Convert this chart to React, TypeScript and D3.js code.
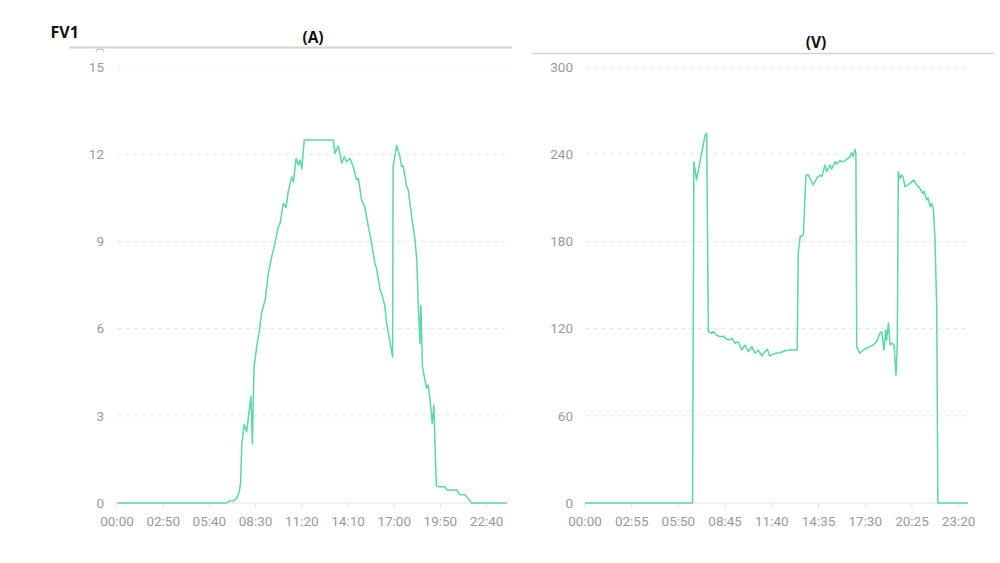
import React from "react";
import * as d3 from "d3";

// ---- Data: current (A), time as minutes of day ----
const timesA = [0, 404, 416, 430, 440, 450, 455, 459, 468, 477, 493, 498, 504, 514, 524, 532, 538, 545, 557, 569, 581, 593, 600, 612, 622, 630, 643, 649, 659, 667, 673, 680, 689, 796, 802, 814, 827, 836, 845, 857, 869, 882, 888, 900, 912, 925, 937, 949, 955, 968, 974, 986, 992, 1014, 1016, 1029, 1041, 1047, 1053, 1066, 1072, 1084, 1096, 1103, 1108, 1115, 1118, 1124, 1133, 1139, 1145, 1152, 1160, 1166, 1170, 1175, 1182, 1207, 1213, 1250, 1262, 1280, 1292, 1305, 1435];
const valuesA = [0, 0, 0.08, 0.08, 0.16, 0.39, 0.7, 2.0, 2.7, 2.45, 3.66, 2.03, 4.64, 5.38, 5.95, 6.53, 6.75, 6.98, 7.9, 8.47, 8.93, 9.5, 9.62, 10.31, 10.17, 10.71, 11.22, 11.05, 11.86, 11.63, 11.8, 11.5, 12.49, 12.49, 12.03, 12.28, 11.69, 11.91, 11.74, 11.86, 11.57, 11.11, 11.17, 10.42, 10.19, 9.5, 8.93, 8.24, 8.07, 7.33, 7.21, 6.75, 6.18, 5.03, 11.57, 12.31, 11.91, 11.57, 11.6, 10.88, 10.77, 9.85, 9.1, 8.36, 6.98, 5.49, 6.8, 4.69, 4.23, 3.95, 4.06, 3.54, 2.74, 3.37, 2.05, 0.6, 0.56, 0.56, 0.45, 0.45, 0.28, 0.28, 0.16, 0, 0];

// ---- Data: voltage (V) ----
const timesV = [0, 403, 408, 418, 450, 456, 462, 475, 481, 493, 506, 518, 531, 543, 550, 562, 574, 587, 600, 612, 625, 637, 649, 662, 674, 683, 693, 712, 731, 749, 768, 795, 799, 806, 818, 828, 837, 855, 868, 881, 887, 899, 905, 918, 924, 937, 943, 955, 968, 980, 993, 999, 1005, 1012, 1015, 1018, 1030, 1043, 1055, 1068, 1080, 1093, 1105, 1112, 1120, 1127, 1130, 1137, 1143, 1149, 1158, 1165, 1170, 1174, 1180, 1187, 1193, 1199, 1218, 1231, 1243, 1255, 1265, 1271, 1280, 1286, 1293, 1299, 1305, 1311, 1318, 1322, 1435];
const valuesV = [0, 0, 234.8, 222.3, 253.2, 254.4, 117.9, 116.8, 117.9, 115.6, 114.4, 114.8, 112.6, 112.2, 113.5, 109.9, 111, 105.3, 108.7, 104.1, 107.6, 103, 105.3, 101.2, 104.1, 105.8, 101.2, 103, 103.4, 104.8, 105.3, 105.3, 171.8, 183.2, 184.4, 225.7, 225.7, 218.8, 223.4, 225.7, 224.5, 232.6, 228, 232.6, 229.7, 234.8, 233.3, 235.5, 234.8, 236.5, 238.3, 241, 238.3, 243.4, 240, 107.6, 103, 105.3, 106.5, 107.6, 108.7, 111, 116.8, 117.9, 105.3, 119, 112, 123.6, 108.7, 110, 108.7, 88, 107.6, 228, 223.4, 225.7, 223.4, 217.6, 220, 222.3, 218.8, 216.5, 213, 214.5, 208.5, 210, 203.9, 206, 202.8, 183.2, 132.8, 0, 0];

const yTicksA = [0, 3, 6, 9, 12, 15];
const yTicksV = [0, 60, 120, 180, 240, 300];
const xTicksA = [0, 170, 340, 510, 680, 850, 1020, 1190, 1360];
const xTicksV = [0, 175, 350, 525, 700, 875, 1050, 1225, 1400];

const LINE = "#5AD8A6";
const fmt = (m: number) => `${String(Math.floor(m / 60)).padStart(2, "0")}:${String(m % 60).padStart(2, "0")}`;

function Panel(props: {
  times: number[];
  values: number[];
  xr: [number, number];
  yr: [number, number];
  ymax: number;
  yTicks: number[];
  xTicks: number[];
  labelX: number;
}) {
  const { times, values, xr, yr, ymax, yTicks, xTicks, labelX } = props;
  const x = d3.scaleLinear().domain([0, 1435]).range(xr);
  const y = d3.scaleLinear().domain([0, ymax]).range(yr);
  const pts = times.map((t, i) => [t, values[i]] as [number, number]);
  const line = d3.line<[number, number]>().x((d) => x(d[0])).y((d) => y(d[1]));
  return (
    <g>
      {yTicks.map((t) => (
        <g key={t}>
          {t !== 0 && (
            <line x1={xr[0]} x2={xr[1]} y1={y(t)} y2={y(t)} stroke="#e6e6e6" strokeWidth={1} strokeDasharray="4,4" />
          )}
          <text x={labelX} y={y(t)} dy="0.35em" textAnchor="end" fill="#9a9a9a" fontSize={13.5} fontFamily="Roboto">
            {t}
          </text>
        </g>
      ))}
      <line x1={xr[0]} x2={xr[1]} y1={yr[0]} y2={yr[0]} stroke="#e3e3e3" strokeWidth={1} />
      {xTicks.map((t) => (
        <g key={t}>
          <line x1={x(t)} x2={x(t)} y1={yr[0]} y2={yr[0] + 5} stroke="#e3e3e3" strokeWidth={1} />
          <text x={x(t)} y={yr[0] + 18} dy="0.35em" textAnchor="middle" fill="#9a9a9a" fontSize={13.5} fontFamily="Roboto">
            {fmt(t)}
          </text>
        </g>
      ))}
      <path d={line(pts) || ""} fill="none" stroke={LINE} strokeWidth={1.5} strokeLinejoin="round" />
    </g>
  );
}

export default function App() {
  return (
    <svg width={1000} height={563} style={{ position: "absolute", left: 0, top: 0, background: "#fff" }}>
      <rect width={1000} height={563} fill="#fff" />
      <text x={50.5} y={38} fontFamily="Open Sans" fontWeight="bold" fontSize={16} fill="#111">FV1</text>
      <text x={313} y={43} textAnchor="middle" fontFamily="Open Sans" fontWeight="bold" fontSize={15.5} fill="#111">(A)</text>
      <text x={816} y={48} textAnchor="middle" fontFamily="Open Sans" fontWeight="bold" fontSize={15.5} fill="#111">(V)</text>
      <line x1={69} x2={512} y1={47.5} y2={47.5} stroke="#d4d4d4" strokeWidth={2} />
      <line x1={532} x2={994} y1={53.5} y2={53.5} stroke="#d4d4d4" strokeWidth={1.5} />
      <path d="M96,52 L97,49.3 L103,49.3 L104,52" fill="none" stroke="#c4c4c4" strokeWidth={1} />
      <Panel times={timesA} values={valuesA} xr={[117, 507]} yr={[503, 67]} ymax={15} yTicks={yTicksA} xTicks={xTicksA} labelX={104} />
      <Panel times={timesV} values={valuesV} xr={[585, 968]} yr={[503, 67]} ymax={300} yTicks={yTicksV} xTicks={xTicksV} labelX={573} />
    </svg>
  );
}
